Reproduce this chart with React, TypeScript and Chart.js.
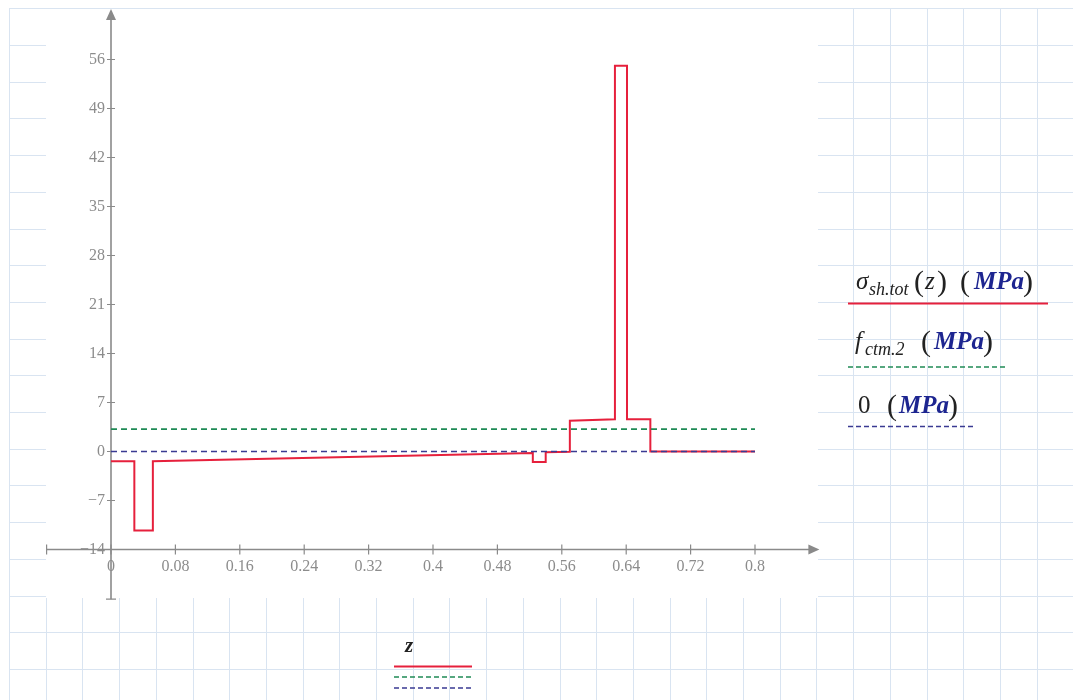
import React, { useEffect, useRef } from "react";
import { Chart, registerables } from "chart.js";

Chart.register(...registerables);

// ---- data ----
const zValues = [0, 0.029, 0.029, 0.052, 0.052, 0.524, 0.524, 0.54, 0.54, 0.57, 0.57, 0.626, 0.626, 0.641, 0.641, 0.67, 0.67, 0.8];
const sigmaValues = [-1.4, -1.4, -11.3, -11.3, -1.4, -0.2, -1.5, -1.5, -0.1, -0.05, 4.4, 4.6, 55.1, 55.1, 4.6, 4.6, 0, 0];
const fctmZ = [0, 0.8];
const fctmValues = [3.2, 3.2];
const zeroZ = [0, 0.8];
const zeroValues = [0, 0];
const xTickValues = [0, 0.08, 0.16, 0.24, 0.32, 0.4, 0.48, 0.56, 0.64, 0.72, 0.8];
const xTickLabels = ["0", "0.08", "0.16", "0.24", "0.32", "0.4", "0.48", "0.56", "0.64", "0.72", "0.8"];
const yTickValues = [-14, -7, 0, 7, 14, 21, 28, 35, 42, 49, 56];
const yTickLabels = ["\u221214", "\u22127", "0", "7", "14", "21", "28", "35", "42", "49", "56"];

const RED = "#e6203c";
const GREEN = "#1f8a55";
const NAVY = "#3a3a92";
const MPA_BLUE = "#1d2590";
const AXIS = "#8a8a8a";
const GRIDPAPER = "#d9e4f1";

const W = 1073;
const H = 700;

type Run = { text: string; font: string; x: number; color?: string; dy?: number };

function drawRuns(ctx: CanvasRenderingContext2D, y: number, runs: Run[]) {
  for (const r of runs) {
    ctx.font = r.font;
    ctx.fillStyle = r.color || "#222";
    ctx.fillText(r.text, r.x, y + (r.dy || 0));
  }
}

const paperPlugin = {
  id: "paper",
  beforeDraw(chart: any) {
    const ctx = chart.ctx as CanvasRenderingContext2D;
    ctx.save();
    ctx.fillStyle = "#ffffff";
    ctx.fillRect(0, 0, W, H);
    ctx.strokeStyle = GRIDPAPER;
    ctx.lineWidth = 1;
    const step = 36.7;
    for (let gx = 9; gx < W; gx += step) {
      ctx.beginPath();
      ctx.moveTo(Math.round(gx) + 0.5, 8);
      ctx.lineTo(Math.round(gx) + 0.5, H);
      ctx.stroke();
    }
    for (let gy = 8.3; gy < H; gy += step) {
      ctx.beginPath();
      ctx.moveTo(9, Math.round(gy) + 0.5);
      ctx.lineTo(W, Math.round(gy) + 0.5);
      ctx.stroke();
    }
    ctx.fillStyle = "#ffffff";
    ctx.fillRect(46, 9, 772, 589);
    ctx.restore();
  },
  beforeDatasetsDraw(chart: any) {
    const ctx = chart.ctx as CanvasRenderingContext2D;
    const xs = chart.scales.x;
    const ys = chart.scales.y;
    const x0 = xs.getPixelForValue(0);
    const yAxisVal = ys.getPixelForValue(-14);
    const xLeft = xs.getPixelForValue(-0.08);
    const xRight = xs.getPixelForValue(0.88);
    const yTop = ys.getPixelForValue(63.2);
    const yBottom = ys.getPixelForValue(-21.1);
    ctx.save();
    ctx.strokeStyle = AXIS;
    ctx.fillStyle = AXIS;
    ctx.lineWidth = 1.6;
    // x axis
    ctx.beginPath();
    ctx.moveTo(xLeft, yAxisVal);
    ctx.lineTo(xRight - 4, yAxisVal);
    ctx.stroke();
    ctx.beginPath();
    ctx.moveTo(xRight, yAxisVal);
    ctx.lineTo(xRight - 11, yAxisVal - 5);
    ctx.lineTo(xRight - 11, yAxisVal + 5);
    ctx.closePath();
    ctx.fill();
    // y axis
    ctx.beginPath();
    ctx.moveTo(x0, yBottom);
    ctx.lineTo(x0, yTop + 4);
    ctx.stroke();
    ctx.beginPath();
    ctx.moveTo(x0, yTop);
    ctx.lineTo(x0 - 5, yTop + 11);
    ctx.lineTo(x0 + 5, yTop + 11);
    ctx.closePath();
    ctx.fill();
    // ticks
    ctx.lineWidth = 1.2;
    ctx.beginPath();
    for (const v of xTickValues) {
      const px = xs.getPixelForValue(v);
      ctx.moveTo(px, yAxisVal - 5);
      ctx.lineTo(px, yAxisVal + 5);
    }
    ctx.moveTo(xLeft, yAxisVal - 5);
    ctx.lineTo(xLeft, yAxisVal + 5);
    for (const v of yTickValues) {
      const py = ys.getPixelForValue(v);
      ctx.moveTo(x0 - 4, py);
      ctx.lineTo(x0 + 4, py);
    }
    ctx.moveTo(x0 - 5, yBottom);
    ctx.lineTo(x0 + 5, yBottom);
    ctx.stroke();
    ctx.restore();
  },
  afterDraw(chart: any) {
    const ctx = chart.ctx as CanvasRenderingContext2D;
    ctx.save();
    ctx.textBaseline = "alphabetic";
    const serif = '"Liberation Serif", "Times New Roman", serif';
    const big = `30px ${serif}`;
    const main = `italic 25px ${serif}`;
    const sub = `italic 18px ${serif}`;
    const mpa = `bold italic 25px ${serif}`;
    // legend 1
    drawRuns(ctx, 289, [
      { text: "\u03c3", font: main, x: 856 },
      { text: "sh.tot", font: sub, x: 869, dy: 6 },
      { text: "(", font: big, x: 914, dy: 2 },
      { text: "z", font: main, x: 925 },
      { text: ")", font: big, x: 937, dy: 2 },
      { text: "(", font: big, x: 960, dy: 2 },
      { text: "MPa", font: mpa, x: 974, color: MPA_BLUE },
      { text: ")", font: big, x: 1023, dy: 2 },
    ]);
    // legend 2
    drawRuns(ctx, 349, [
      { text: "f", font: main, x: 855 },
      { text: "ctm.2", font: sub, x: 865, dy: 6 },
      { text: "(", font: big, x: 921, dy: 2 },
      { text: "MPa", font: mpa, x: 934, color: MPA_BLUE },
      { text: ")", font: big, x: 983, dy: 2 },
    ]);
    // legend 3
    drawRuns(ctx, 413, [
      { text: "0", font: `25px ${serif}`, x: 858 },
      { text: "(", font: big, x: 887, dy: 2 },
      { text: "MPa", font: mpa, x: 899, color: MPA_BLUE },
      { text: ")", font: big, x: 948, dy: 2 },
    ]);
    // legend lines
    ctx.lineWidth = 2;
    ctx.strokeStyle = RED;
    ctx.beginPath();
    ctx.moveTo(848, 303.5);
    ctx.lineTo(1048, 303.5);
    ctx.stroke();
    ctx.lineWidth = 1.6;
    ctx.setLineDash([5, 3]);
    ctx.strokeStyle = GREEN;
    ctx.beginPath();
    ctx.moveTo(848, 367);
    ctx.lineTo(1005, 367);
    ctx.stroke();
    ctx.strokeStyle = NAVY;
    ctx.beginPath();
    ctx.moveTo(848, 426.5);
    ctx.lineTo(973, 426.5);
    ctx.stroke();
    ctx.setLineDash([]);
    // x label
    ctx.font = `bold italic 21px ${serif}`;
    ctx.fillStyle = "#222";
    ctx.fillText("z", 405, 652);
    ctx.lineWidth = 2;
    ctx.strokeStyle = RED;
    ctx.beginPath();
    ctx.moveTo(394, 666.5);
    ctx.lineTo(472, 666.5);
    ctx.stroke();
    ctx.lineWidth = 1.6;
    ctx.setLineDash([5, 3]);
    ctx.strokeStyle = GREEN;
    ctx.beginPath();
    ctx.moveTo(394, 677);
    ctx.lineTo(472, 677);
    ctx.stroke();
    ctx.strokeStyle = NAVY;
    ctx.beginPath();
    ctx.moveTo(394, 688);
    ctx.lineTo(472, 688);
    ctx.stroke();
    ctx.restore();
  },
};

export default function App() {
  const canvasRef = useRef<HTMLCanvasElement | null>(null);

  useEffect(() => {
    const canvas = canvasRef.current;
    if (!canvas) return;
    const tickFont = { family: '"Liberation Serif", "Times New Roman", serif', size: 16 };
    const chart = new Chart(canvas, {
      type: "scatter",
      data: {
        datasets: [
          {
            label: "sigma_sh.tot(z)",
            data: zValues.map((z, i) => ({ x: z, y: sigmaValues[i] })),
            showLine: true,
            borderColor: RED,
            backgroundColor: RED,
            borderWidth: 2,
            pointRadius: 0,
            tension: 0,
            order: 2,
          },
          {
            label: "f_ctm.2",
            data: fctmZ.map((z, i) => ({ x: z, y: fctmValues[i] })),
            showLine: true,
            borderColor: GREEN,
            backgroundColor: GREEN,
            borderWidth: 1.6,
            borderDash: [6, 4],
            pointRadius: 0,
            order: 1,
          },
          {
            label: "0",
            data: zeroZ.map((z, i) => ({ x: z, y: zeroValues[i] })),
            showLine: true,
            borderColor: NAVY,
            backgroundColor: NAVY,
            borderWidth: 1.6,
            borderDash: [6, 4],
            pointRadius: 0,
            order: 0,
          },
        ],
      },
      options: {
        responsive: false,
        animation: false,
        devicePixelRatio: 1,
        layout: { padding: { left: 0, top: 10.5, right: 253.6, bottom: 0 } },
        plugins: { legend: { display: false }, tooltip: { enabled: false } },
        scales: {
          x: {
            type: "linear",
            position: "bottom",
            min: 0,
            max: 0.88,
            grid: { display: false, drawTicks: false },
            border: { display: false },
            afterBuildTicks: (axis: any) => {
              axis.ticks = xTickValues.map((v) => ({ value: v }));
            },
            afterFit: (s: any) => {
              s.height = 150.5;
              s.paddingLeft = 0;
              s.paddingRight = 0;
              s.paddingTop = 0;
              s.paddingBottom = 0;
            },
            ticks: {
              autoSkip: false,
              maxRotation: 0,
              color: "#8c8c8c",
              font: tickFont,
              padding: 8,
              callback: (v: any) => {
                const i = xTickValues.findIndex((t) => Math.abs(t - Number(v)) < 1e-9);
                return i >= 0 ? xTickLabels[i] : "";
              },
            },
          },
          y: {
            type: "linear",
            position: "left",
            min: -14,
            max: 63,
            grid: { display: false, drawTicks: false },
            border: { display: false },
            afterBuildTicks: (axis: any) => {
              axis.ticks = yTickValues.map((v) => ({ value: v }));
            },
            afterFit: (s: any) => {
              s.width = 111;
              s.paddingLeft = 0;
              s.paddingRight = 0;
              s.paddingTop = 0;
              s.paddingBottom = 0;
            },
            ticks: {
              autoSkip: false,
              color: "#8c8c8c",
              font: tickFont,
              padding: 6,
              callback: (v: any) => {
                const i = yTickValues.findIndex((t) => Math.abs(t - Number(v)) < 1e-9);
                return i >= 0 ? yTickLabels[i] : "";
              },
            },
          },
        },
      },
      plugins: [paperPlugin],
    } as any);
    return () => chart.destroy();
  }, []);

  return (
    <div style={{ position: "fixed", left: 0, top: 0, width: W, height: H }}>
      <canvas ref={canvasRef} width={W} height={H} style={{ display: "block", width: W, height: H }} />
    </div>
  );
}
